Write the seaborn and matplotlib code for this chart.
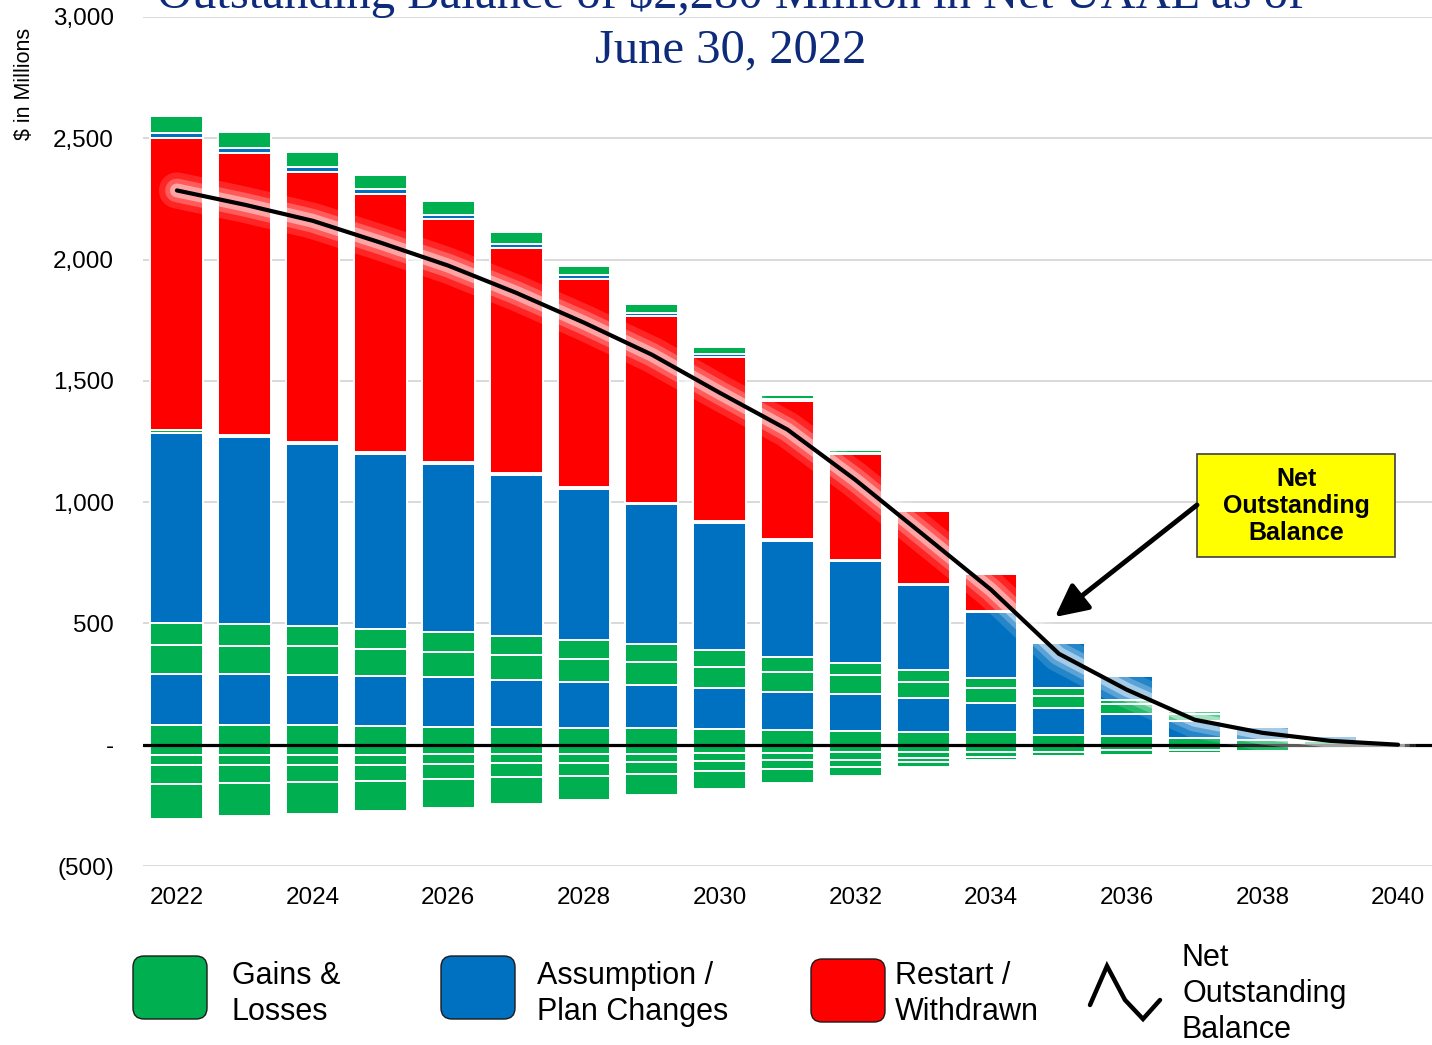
import numpy as np
import matplotlib
matplotlib.use("Agg")
import matplotlib.pyplot as plt
import matplotlib.patheffects as pe
from matplotlib.patches import FancyBboxPatch, Rectangle
from matplotlib.lines import Line2D
import seaborn as sns

# ---------------- data ----------------
years = [str(y) for y in range(2022, 2041)]

# positive layers, bottom to top
gain_base   = [80, 82, 80, 76, 74, 72, 70, 68, 65, 62, 58, 52, 52, 41, 35, 29, 21, 14, 0]
assump_base = [213, 210, 209, 206, 204, 196, 188, 180, 170, 157, 152, 142, 122, 109, 91, 70, 52, 20, 0]
gain_mid1   = [120, 117, 117, 114, 106, 100, 96, 92, 86, 82, 79, 66, 61, 52, 43, 29, 9, 0, 0]
gain_mid2   = [87, 88, 83, 82, 80, 80, 78, 76, 70, 62, 49, 47, 38, 30, 16, 10, 0, 0, 0]
assump_main = [787, 770, 749, 721, 695, 665, 624, 575, 524, 477, 418, 350, 274, 187, 99, 0, 0, 0, 0]
gain_thin   = [10, 8, 8, 8, 8, 8, 8, 7, 7, 6, 5, 4, 3, 0, 0, 0, 0, 0, 0]
restart     = [1203, 1163, 1114, 1062, 1000, 928, 857, 771, 677, 569, 437, 304, 155, 0, 0, 0, 0, 0, 0]
assump_top  = [20, 20, 20, 20, 18, 16, 14, 12, 12, 10, 5, 0, 0, 0, 0, 0, 0, 0, 0]
gain_top    = [70, 66, 63, 60, 58, 50, 40, 37, 29, 15, 10, 0, 0, 0, 0, 0, 0, 0, 0]

# negative layers, from zero downwards
loss_1 = [41, 41, 41, 41, 40, 39, 38, 37, 36, 35, 32, 30, 28, 29, 21, 21, 25, 8, 0]
loss_2 = [44, 41, 43, 41, 40, 38, 36, 34, 32, 30, 33, 25, 22, 16, 20, 12, 8, 8, 0]
loss_3 = [76, 74, 69, 66, 62, 58, 53, 48, 42, 36, 27, 15, 12, 0, 0, 0, 0, 0, 0]
loss_4 = [144, 139, 132, 125, 118, 108, 100, 87, 71, 56, 36, 20, 5, 0, 0, 0, 0, 0, 0]

net_balance = [2285, 2226, 2160, 2070, 1975, 1863, 1740, 1608, 1451, 1299,
               1092, 866, 639, 375, 227, 103, 49, 16, 0]

y_ticks = [-500, 0, 500, 1000, 1500, 2000, 2500, 3000]
y_tick_labels = ["(500)", "-", "500", "1,000", "1,500", "2,000", "2,500", "3,000"]

title_line1 = "Outstanding Balance of $2,280 Million in Net UAAL as of"
title_line2 = "June 30, 2022"
legend_labels = ["Gains &\nLosses", "Assumption /\nPlan Changes", "Restart /\nWithdrawn",
                 "Net\nOutstanding\nBalance"]

# ---------------- style ----------------
GREEN, BLUE, RED = "#00B050", "#0070C0", "#FF0000"
NAVY = "#0E2A7B"

sns.set_theme(style="white")
plt.rcParams["font.family"] = ["Liberation Sans", "DejaVu Sans"]

W, H = 1432, 1045
fig = plt.figure(figsize=(W / 100, H / 100), dpi=100)
ax = fig.add_axes([143 / W, 1 - 866 / H, 1 - 143 / W, (866 - 17) / H])

n = len(years)
bar_kw = dict(width=0.78, edgecolor="white", linewidth=1.4, saturation=1,
              errorbar=None, ax=ax, zorder=2)

pos_layers = [(gain_base, GREEN), (assump_base, BLUE), (gain_mid1, GREEN),
              (gain_mid2, GREEN), (assump_main, BLUE), (gain_thin, GREEN),
              (restart, RED), (assump_top, BLUE), (gain_top, GREEN)]
bottom = np.zeros(n)
for vals, col in pos_layers:
    v = np.asarray(vals, dtype=float)
    sns.barplot(x=years, y=v, bottom=bottom.copy(), color=col, **bar_kw)
    bottom += v

bottom = np.zeros(n)
for vals in (loss_1, loss_2, loss_3, loss_4):
    v = -np.asarray(vals, dtype=float)
    sns.barplot(x=years, y=v, bottom=bottom.copy(), color=GREEN, **bar_kw)
    bottom += v

ax.axhline(0, color="black", lw=2.3, zorder=4)

sns.lineplot(x=np.arange(n), y=net_balance, color="black", lw=3.0, ax=ax,
             zorder=6, legend=False)
ln = ax.lines[-1]
ln.set_solid_capstyle("round")
ln.set_path_effects([
    pe.Stroke(linewidth=26, foreground="white", alpha=0.15),
    pe.Stroke(linewidth=17, foreground="white", alpha=0.25),
    pe.Stroke(linewidth=10, foreground="white", alpha=0.45),
    pe.Normal()])

ax.set_xlim(-0.5, n - 0.5)
ax.set_ylim(-500, 3000)
ax.set_yticks(y_ticks)
ax.set_yticklabels(y_tick_labels)
ax.set_xticks(np.arange(0, n, 2))
ax.set_xticklabels(years[::2])
ax.set_xlabel("")
ax.set_ylabel("")
ax.tick_params(axis="both", length=0, labelsize=17.5, colors="black")
ax.tick_params(axis="x", pad=15)
ax.tick_params(axis="y", pad=21)
ax.yaxis.grid(True, color="#D9D9D9", lw=1.4)
ax.xaxis.grid(False)
ax.set_axisbelow(True)
for s in ax.spines.values():
    s.set_visible(False)

# y label
fig.text(25 / W, 1 - 84 / H, "$ in Millions", rotation=90, ha="center", va="center",
         fontsize=15.5, color="black")

# title (first line partly cut by the top edge as in the reference)
fig.text(0.51, 1 - 8 / H, title_line1, ha="center", va="baseline", fontsize=35,
         color=NAVY, family=["Liberation Serif", "DejaVu Serif"])
fig.text(0.51, 1 - 62 / H, title_line2, ha="center", va="baseline", fontsize=35,
         color=NAVY, family=["Liberation Serif", "DejaVu Serif"])

# overlay in pixel coordinates for legend & callout
lax = fig.add_axes([0, 0, 1, 1], zorder=10)
lax.set_xlim(0, W)
lax.set_ylim(H, 0)
lax.axis("off")
lax.patch.set_alpha(0)

boxes = [(133, 956, GREEN), (441, 956, BLUE), (811, 959, RED)]
text_x = [232, 537, 895]
for (bx, by, col), tx, lab in zip(boxes, text_x, legend_labels[:3]):
    lax.add_patch(FancyBboxPatch((bx, by), 74, 63, boxstyle="round,pad=0,rounding_size=11",
                                 fc=col, ec="#1a1a1a", lw=1.0))
    lax.text(tx, 994, lab, ha="left", va="center", fontsize=22, color="black",
             linespacing=1.24)
lax.add_line(Line2D([1090, 1107, 1125, 1143, 1160], [1005, 966, 1000, 1019, 1000],
                    color="black", lw=3.2, solid_joinstyle="miter"))
lax.text(1182, 994, legend_labels[3], ha="left", va="center", fontsize=22,
         color="black", linespacing=1.24)

# callout
lax.annotate("", xy=(1055, 617), xytext=(1197, 505),
             arrowprops=dict(arrowstyle="-|>,head_length=0.9,head_width=0.45",
                             lw=3.5, color="black", mutation_scale=22,
                             shrinkA=0, shrinkB=0))
lax.add_patch(Rectangle((1197, 454), 198, 103, fc="#FFFF00", ec="#404040", lw=1.2))
lax.text(1296, 506, "Net\nOutstanding\nBalance", ha="center", va="center",
         fontsize=18, fontweight="bold", color="black", linespacing=1.15)

fig.savefig("out.png", dpi=100)
